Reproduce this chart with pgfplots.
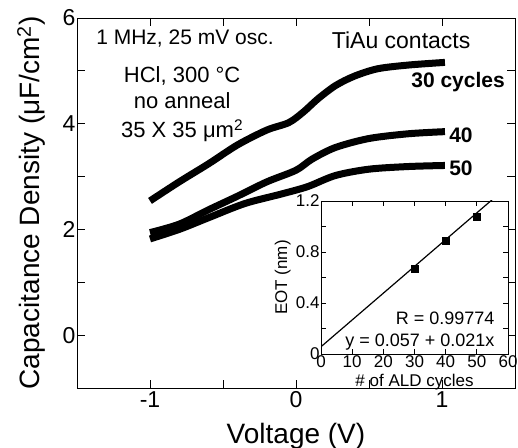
\documentclass[border=0pt]{standalone}
\usepackage{fontspec}
\setmainfont{Liberation Sans}
\usepackage{pgfplots}
\pgfplotsset{compat=1.18}
\begin{document}
\begin{tikzpicture}
\begin{axis}[name=main, scale only axis, width=438pt, height=370pt,
    xmin=-1.5, xmax=1.5, ymin=-1, ymax=6,
    xtick={-1,0,1}, minor xtick={-0.5,0.5},
    ytick={0,2,4,6}, minor ytick={1,3,5},
    tick align=inside, major tick length=8pt, minor tick length=8pt,
    tick style={black, line width=0.8pt},
    axis line style={line width=0.8pt},
    /pgf/number format/assume math mode=true,
    ticklabel style={font=\fontsize{23}{23}\selectfont},
    yticklabel style={xshift=2pt},
    xlabel={Voltage (V)},
    ylabel={Capacitance Density (μF/cm\textsuperscript{2})},
    label style={font=\fontsize{28}{28}\selectfont},
    xlabel style={at={(axis description cs:0.5,0)}, anchor=base, yshift=-55pt},
    ylabel style={at={(axis description cs:0,0.5)}, anchor=base, yshift=37pt},
]
% 30 cycles
\addplot[black, line width=7pt, smooth] coordinates {
    (-1.00,2.54) (-0.80,2.90) (-0.60,3.24) (-0.40,3.60) (-0.20,3.88)
    (-0.05,4.02) (0.05,4.22) (0.15,4.47) (0.27,4.72) (0.40,4.90)
    (0.56,5.04) (0.77,5.11) (1.02,5.16)
};
% 40 cycles
\addplot[black, line width=7pt, smooth] coordinates {
    (-1.00,1.94) (-0.80,2.10) (-0.60,2.37) (-0.40,2.63) (-0.20,2.90)
    (0.00,3.12) (0.11,3.33) (0.27,3.55) (0.50,3.72) (0.77,3.81) (1.02,3.85)
};
% 50 cycles
\addplot[black, line width=7pt, smooth] coordinates {
    (-1.00,1.82) (-0.80,2.00) (-0.60,2.22) (-0.35,2.49) (-0.10,2.67)
    (0.08,2.81) (0.27,3.02) (0.50,3.14) (0.77,3.19) (1.02,3.21)
};
\node[font=\fontsize{21}{21}\selectfont] at (axis cs:-0.76,5.62) {1 MHz, 25 mV osc.};
\node[font=\fontsize{22}{22}\selectfont] at (axis cs:-0.78,4.91) {HCl, 300 °C};
\node[font=\fontsize{22}{22}\selectfont] at (axis cs:-0.78,4.44) {no anneal};
\node[font=\fontsize{22}{22}\selectfont] at (axis cs:-0.78,3.87) {35 X 35 μm\textsuperscript{2}};
\node[font=\fontsize{23}{23}\selectfont] at (axis cs:0.72,5.58) {TiAu contacts};
\node[font=\bfseries\fontsize{21}{21}\selectfont] at (axis cs:1.11,4.78) {30 cycles};
\node[font=\bfseries\fontsize{21}{21}\selectfont] at (axis cs:1.13,3.78) {40};
\node[font=\bfseries\fontsize{21}{21}\selectfont] at (axis cs:1.13,3.15) {50};
\end{axis}
\begin{axis}[name=inset, scale only axis, width=187pt, height=153pt,
    at={(main.south west)}, anchor=south west, xshift=244pt, yshift=34pt,
    axis background/.style={fill=white},
    xmin=0, xmax=60, ymin=0, ymax=1.2,
    xtick={0,10,...,60}, ytick={0,0.4,0.8,1.2}, minor ytick={0.2,0.6,1.0},
    tick align=inside, major tick length=5pt, minor tick length=5pt,
    tick style={black, line width=0.8pt},
    axis line style={line width=0.8pt},
    /pgf/number format/assume math mode=true,
    ticklabel style={font=\fontsize{17}{17}\selectfont},
    xticklabel style={yshift=2pt},
    yticklabel style={xshift=2pt},
    xlabel={\# of ALD cycles}, ylabel={EOT (nm)},
    label style={font=\fontsize{17}{17}\selectfont},
    xlabel style={at={(axis description cs:0.5,0)}, anchor=base, yshift=-33pt},
    ylabel style={at={(axis description cs:0,0.5)}, anchor=base, yshift=34pt},
    clip=true,
]
\addplot[black, line width=1.2pt] coordinates {(0,0.057) (60,1.317)};
\addplot[black, only marks, mark=square*, mark size=3.5pt] coordinates {
    (30,0.67) (40,0.89) (50,1.08)
};
\node[font=\fontsize{18}{18}\selectfont, anchor=base east] at (axis cs:56.8,0.235) {R = 0.99774};
\node[font=\fontsize{18}{18}\selectfont, anchor=base east] at (axis cs:56.8,0.06) {y = 0.057 + 0.021x};
\end{axis}
\pgfresetboundingbox
\path ([shift={(-77pt,-60pt)}]main.south west) rectangle ([shift={(3pt,18pt)}]main.north east);
\end{tikzpicture}
\end{document}
